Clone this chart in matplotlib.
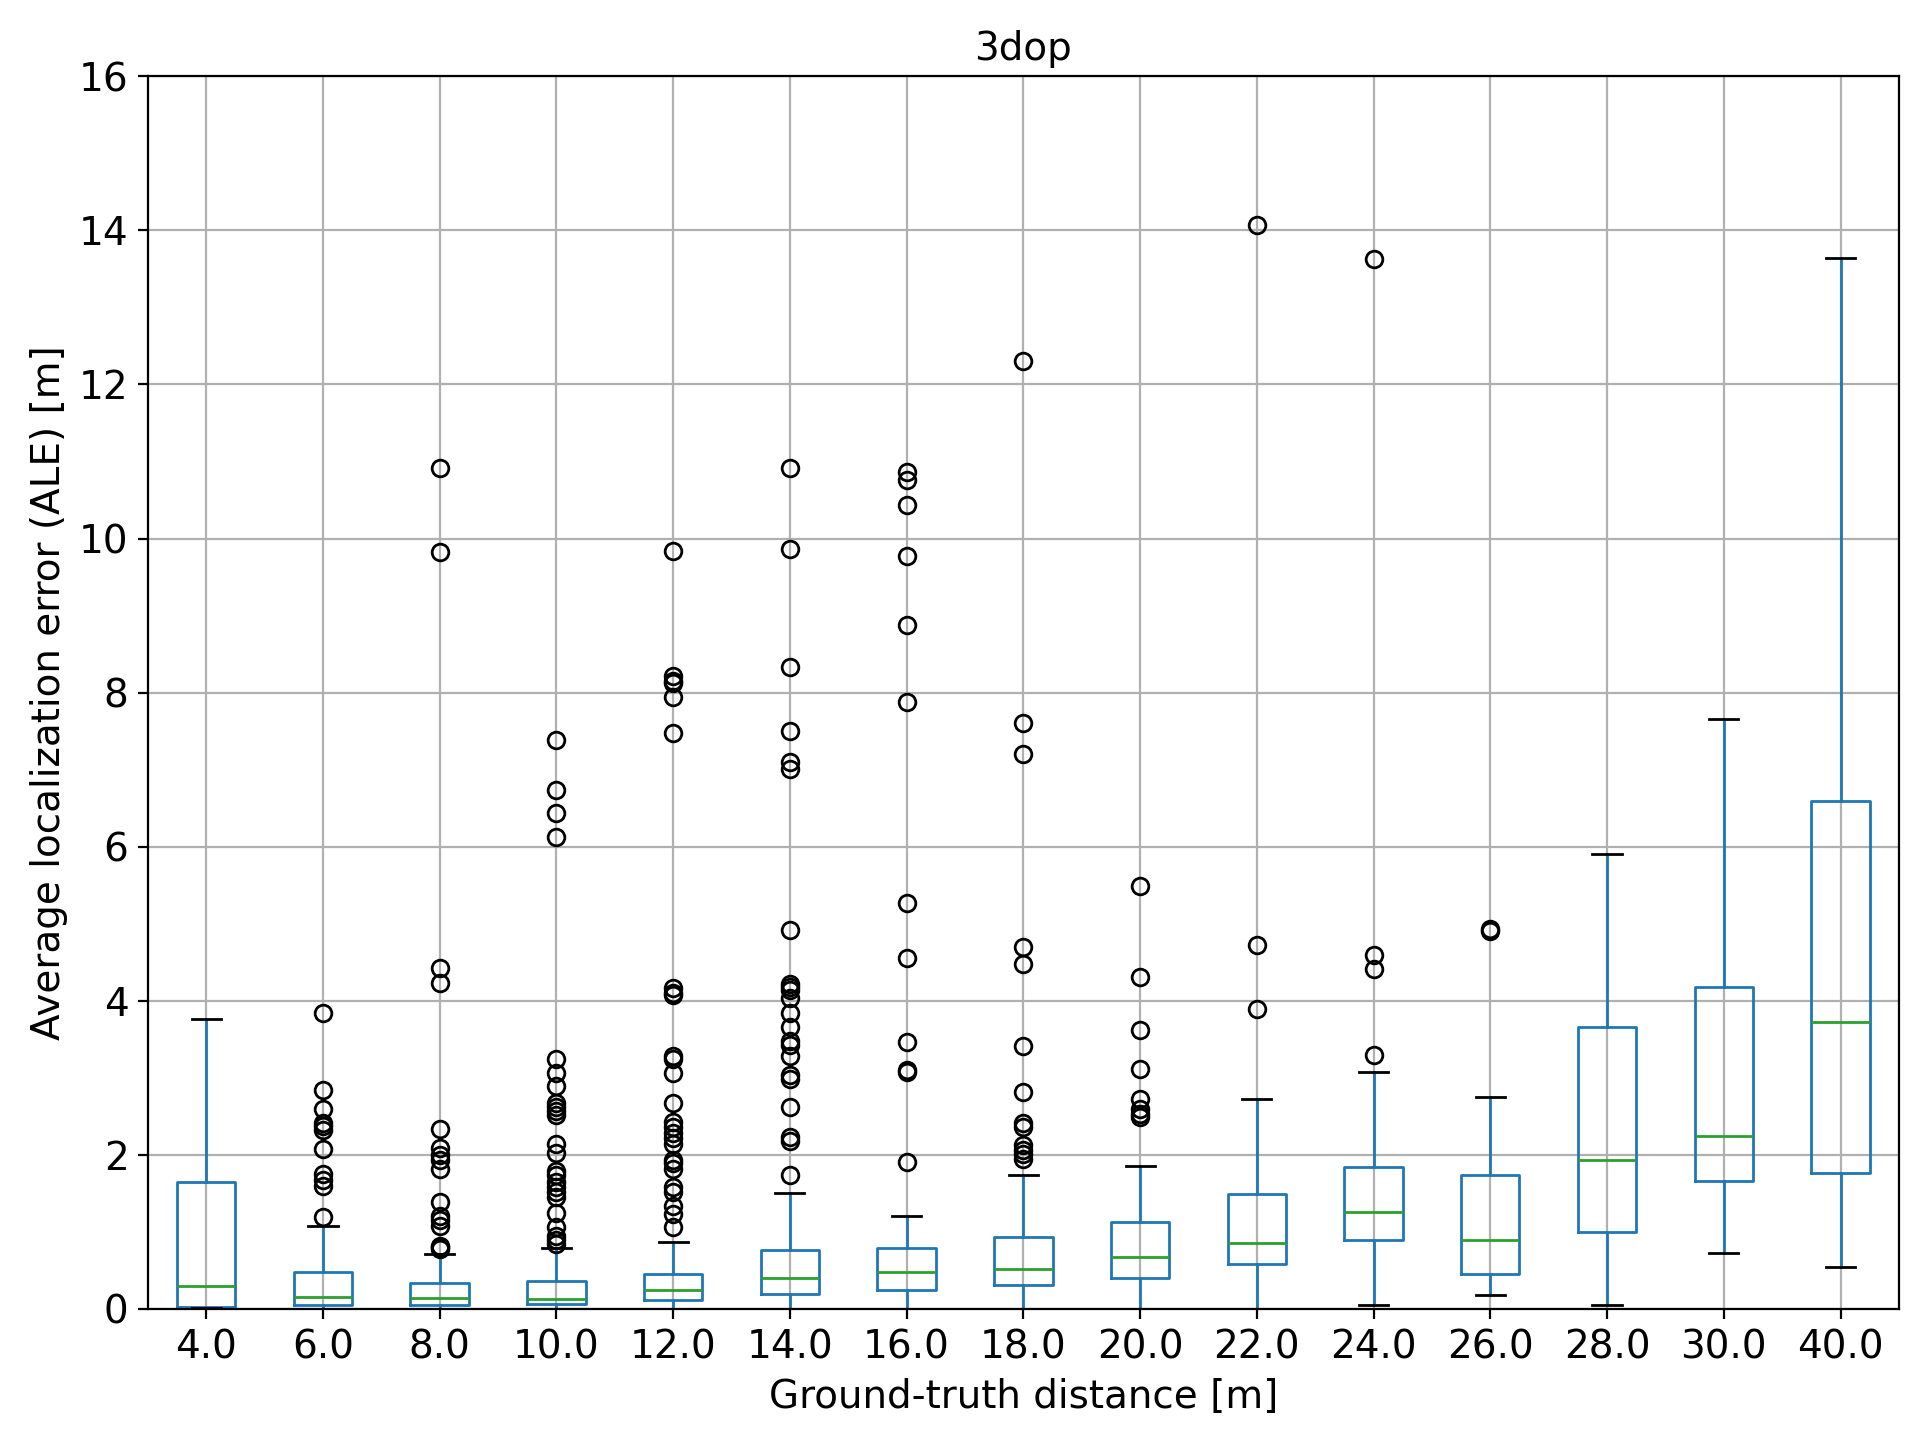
import matplotlib
matplotlib.use("Agg")
import matplotlib.pyplot as plt

# distances (groups) and box statistics
distances = ["4.0", "6.0", "8.0", "10.0", "12.0", "14.0", "16.0", "18.0",
             "20.0", "22.0", "24.0", "26.0", "28.0", "30.0", "40.0"]

whislo = [0.01, 0.0, 0.0, 0.0, 0.0, 0.0, 0.0, 0.0, 0.0, 0.0, 0.057, 0.175, 0.05, 0.72, 0.54]
q1 = [0.03, 0.05, 0.05, 0.06, 0.12, 0.20, 0.25, 0.31, 0.40, 0.58, 0.90, 0.45, 1.0, 1.66, 1.77]
med = [0.30, 0.15, 0.14, 0.135, 0.25, 0.40, 0.475, 0.515, 0.67, 0.855, 1.265, 0.90, 1.93, 2.24, 3.72]
q3 = [1.65, 0.48, 0.34, 0.36, 0.46, 0.77, 0.785, 0.94, 1.13, 1.49, 1.84, 1.74, 3.66, 4.18, 6.59]
whishi = [3.77, 1.08, 0.71, 0.79, 0.87, 1.50, 1.21, 1.745, 1.86, 2.73, 3.08, 2.75, 5.91, 7.66, 13.64]

fliers = [
    [],
    [1.19, 1.59, 1.68, 1.75, 2.07, 2.32, 2.37, 2.41, 2.59, 2.84, 3.84],
    [0.78, 0.80, 0.82, 1.08, 1.15, 1.21, 1.39, 1.82, 1.93, 2.0, 2.09, 2.33,
     4.23, 4.43, 9.83, 10.92],
    [0.84, 0.89, 0.95, 1.06, 1.24, 1.45, 1.52, 1.58, 1.65, 1.74, 1.79, 2.02,
     2.14, 2.52, 2.57, 2.62, 2.67, 2.90, 3.06, 3.25, 6.13, 6.44, 6.74, 7.39],
    [1.06, 1.23, 1.34, 1.52, 1.58, 1.82, 1.89, 1.93, 2.14, 2.22, 2.28, 2.36,
     2.43, 2.67, 3.06, 3.25, 3.28, 4.07, 4.10, 4.16, 7.48, 7.94, 8.13, 8.15,
     8.21, 9.84],
    [1.74, 2.18, 2.23, 2.62, 2.98, 3.04, 3.28, 3.42, 3.48, 3.66, 3.84, 4.03,
     4.14, 4.18, 4.22, 4.92, 7.01, 7.10, 7.50, 8.33, 9.86, 10.92],
    [1.91, 3.07, 3.10, 3.47, 4.56, 5.27, 7.88, 8.88, 9.77, 10.43, 10.76, 10.87],
    [1.95, 2.01, 2.06, 2.13, 2.36, 2.41, 2.82, 3.41, 4.48, 4.70, 7.21, 7.61, 12.3],
    [2.49, 2.53, 2.59, 2.73, 3.12, 3.62, 4.31, 5.49],
    [3.90, 4.73, 14.07],
    [3.30, 4.41, 4.60, 13.63],
    [4.90, 4.93],
    [],
    [],
    [],
]

stats = []
for i, lab in enumerate(distances):
    stats.append({
        "label": lab,
        "whislo": whislo[i],
        "q1": q1[i],
        "med": med[i],
        "q3": q3[i],
        "whishi": whishi[i],
        "fliers": fliers[i],
    })

fig, ax = plt.subplots(figsize=(9.6, 7.2), dpi=200)
fig.subplots_adjust(left=0.077, right=0.989, bottom=0.091, top=0.947)

ax.bxp(stats, widths=0.5,
       boxprops=dict(color="#1f77b4"),
       whiskerprops=dict(color="#1f77b4"),
       capprops=dict(color="black"),
       medianprops=dict(color="#2ca02c"),
       flierprops=dict(marker="o", markerfacecolor="none",
                       markeredgecolor="black", markersize=6))

ax.grid(True, color="#b0b0b0", linewidth=0.8)
ax.set_axisbelow(True)
ax.set_ylim(0, 16)
ax.set_yticks(range(0, 17, 2))
ax.tick_params(labelsize=14)

ax.set_title("3dop", fontsize=14)
ax.set_xlabel("Ground-truth distance [m]", fontsize=14)
ax.set_ylabel("Average localization error (ALE) [m]", fontsize=14)

fig.savefig("out.png", dpi=200)
